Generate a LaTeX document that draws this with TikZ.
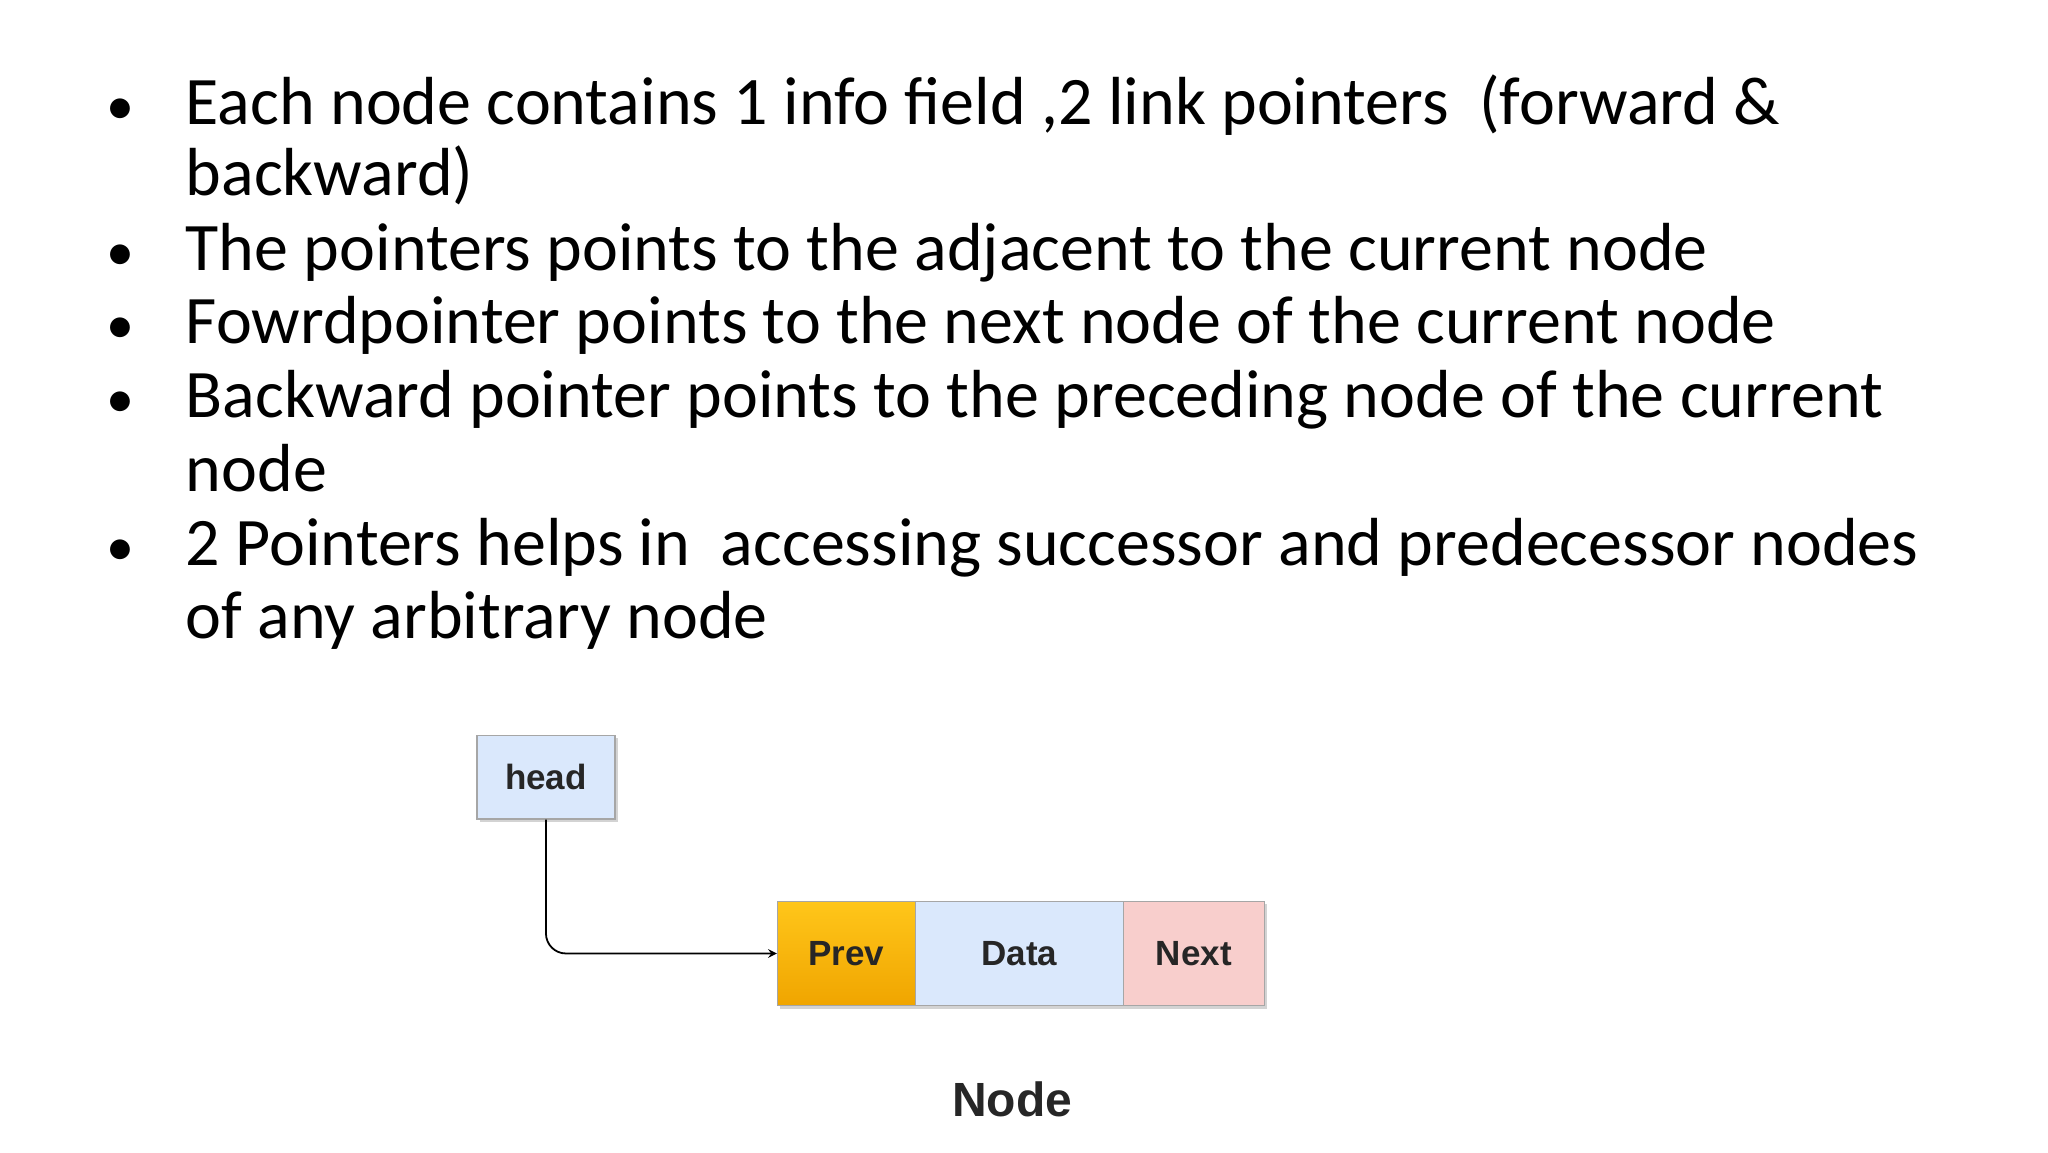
\documentclass[tikz,border=0pt]{standalone}
\usepackage{fontspec}
\setmainfont{Carlito}
\newfontfamily\arialf{Liberation Sans}
\usetikzlibrary{shadows}
\definecolor{prevA}{HTML}{FFC61A}
\definecolor{prevB}{HTML}{F0A500}
\definecolor{dataC}{HTML}{DAE8FC}
\definecolor{nextC}{HTML}{F8CECC}
\begin{document}
\begin{tikzpicture}[x=0.65306pt,y=-0.65306pt,
  line/.style={anchor=base west,inner sep=0,font=\fontsize{34}{40}\selectfont},
  bul/.style={anchor=base,inner sep=0,font=\fontsize{28}{34}\selectfont},
  box/.style={draw=black!35,line width=0.6pt,minimum height=52.2pt,inner sep=0,text=black!85,font=\arialf\bfseries\fontsize{17.5}{21}\selectfont,drop shadow={shadow xshift=1.5pt,shadow yshift=-1.5pt,opacity=0.35}}]
\useasboundingbox (0,0) rectangle (1568,882);
\node[bul] (b1) at (92,95) {•};
\node[line] (l1) at (142,95) {Each node contains 1 info field ,2 link pointers \ (forward \&};
\node[line] (l2) at (142,150) {backward)};
\node[bul] (b2) at (92,207) {•};
\node[line] (l3) at (142,207) {The pointers points to the adjacent to the current node};
\node[bul] (b3) at (92,263) {•};
\node[line] (l4) at (142,263) {Fowrdpointer points to the next node of the current node};
\node[bul] (b4) at (92,320) {•};
\node[line] (l5) at (142,320) {Backward pointer points to the preceding node of the current};
\node[line] (l6) at (142,376) {node};
\node[bul] (b5) at (92,433) {•};
\node[line] (l7) at (142,433) {2 Pointers helps in \ accessing successor and predecessor nodes};
\node[line] (l8) at (142,489) {of any arbitrary node};

\node[box,fill=dataC,minimum width=69pt,minimum height=41.8pt] (head) at (418,595) {head};
\node[box,top color=prevA,bottom color=prevB,minimum width=69pt] (prev) at (648,730) {Prev};
\node[box,fill=dataC,minimum width=104pt] (data) at (780.5,730) {Data};
\node[box,fill=nextC,minimum width=70.5pt] (next) at (914,730) {Next};
\node[font=\arialf\bfseries\fontsize{24}{28}\selectfont,text=black!85,inner sep=0] (cap) at (775,842) {Node};
\draw[line width=0.9pt,-stealth,rounded corners=10pt] (head.south) |- (prev.west);
\end{tikzpicture}
\end{document}
